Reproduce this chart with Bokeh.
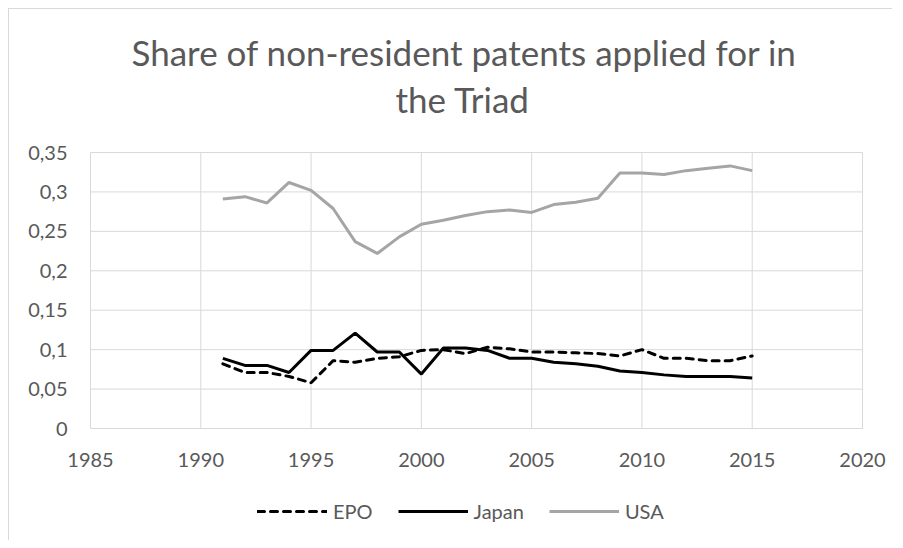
from bokeh.plotting import figure
from bokeh.models import Title, Legend, LegendItem, Range1d
from bokeh.embed import file_html
from bokeh.resources import INLINE

years = list(range(1991, 2016))
epo = [0.082, 0.071, 0.071, 0.066, 0.058, 0.086, 0.084, 0.089, 0.091, 0.099,
       0.100, 0.095, 0.103, 0.101, 0.097, 0.097, 0.096, 0.095, 0.092, 0.100,
       0.089, 0.089, 0.086, 0.086, 0.092]
japan = [0.089, 0.080, 0.080, 0.071, 0.099, 0.099, 0.121, 0.097, 0.097, 0.069,
         0.102, 0.102, 0.099, 0.089, 0.089, 0.084, 0.082, 0.079, 0.073, 0.071,
         0.068, 0.066, 0.066, 0.066, 0.064]
usa = [0.291, 0.294, 0.286, 0.312, 0.302, 0.279, 0.237, 0.222, 0.243, 0.259,
       0.264, 0.270, 0.275, 0.277, 0.274, 0.284, 0.287, 0.292, 0.324, 0.324,
       0.322, 0.327, 0.330, 0.333, 0.327]
x_ticks = [1985, 1990, 1995, 2000, 2005, 2010, 2015, 2020]
x_labels = ["1985", "1990", "1995", "2000", "2005", "2010", "2015", "2020"]
y_ticks = [0, 0.05, 0.1, 0.15, 0.2, 0.25, 0.3, 0.35]
y_labels = ["0", "0,05", "0,1", "0,15", "0,2", "0,25", "0,3", "0,35"]
title_lines = ["Share of non-resident patents applied for in", "the Triad"]

FONT = "Lato"
TXT = "#595959"
GRID = "#d9d9d9"

# plotting region: 772 x 276 px; the frame is padded so tick labels and legend fit inside
PLOT_W, PLOT_H = 772, 276
PAD_L, PAD_R, PAD_T, PAD_B = 81, 30, 14, 112
px_x = PLOT_W / (x_ticks[-1] - x_ticks[0])
px_y = PLOT_H / (y_ticks[-1] - y_ticks[0])

p = figure(frame_width=PLOT_W + PAD_L + PAD_R, frame_height=PLOT_H + PAD_T + PAD_B,
           output_backend="svg", toolbar_location=None,
           x_range=Range1d(x_ticks[0] - PAD_L / px_x, x_ticks[-1] + PAD_R / px_x),
           y_range=Range1d(y_ticks[0] - PAD_B / px_y, y_ticks[-1] + PAD_T / px_y),
           min_border_left=81 - PAD_L, min_border_right=30 - PAD_R,
           min_border_top=143 - PAD_T, min_border_bottom=0)
p.styles = {"margin-top": "8px", "margin-left": "8px",
            "border-top": "1px solid #d9d9d9", "border-left": "1px solid #d9d9d9"}
p.title.visible = False

t2 = Title(text=title_lines[1], align="left", text_font=FONT, text_font_size="35px",
           text_color=TXT, text_font_style="normal", offset=305 + PAD_L,
           standoff=66 - 2 * PAD_T)
t1 = Title(text=title_lines[0], align="left", text_font=FONT, text_font_size="35px",
           text_color=TXT, text_font_style="normal", offset=41 + PAD_L,
           standoff=2 * PAD_T - 60)
p.add_layout(t2, "above")
p.add_layout(t1, "above")

n_x, n_y = len(x_ticks), len(y_ticks)
# gridlines over the plotting region only
p.segment(x0=x_ticks, y0=[y_ticks[0]] * n_x, x1=x_ticks, y1=[y_ticks[-1]] * n_x,
          line_color=GRID, line_width=1)
p.segment(x0=[x_ticks[0]] * n_y, y0=y_ticks, x1=[x_ticks[-1]] * n_y, y1=y_ticks,
          line_color=GRID, line_width=1)

r_epo = p.line(years, epo, line_color="black", line_width=3, line_dash="7 6",
               line_cap="round")
r_jp = p.line(years, japan, line_color="black", line_width=3)
r_us = p.line(years, usa, line_color="#a5a5a5", line_width=3)

# tick labels
p.text(x=x_ticks, y=[y_ticks[0]] * n_x, text=x_labels,
       text_font={"value": FONT}, text_font_size={"value": "20px"}, text_color=TXT,
       text_align="center", text_baseline="middle", y_offset=31)
p.text(x=[x_ticks[0]] * n_y, y=y_ticks, text=y_labels,
       text_font={"value": FONT}, text_font_size={"value": "20px"}, text_color=TXT,
       text_align="right", text_baseline="middle", x_offset=-23)

p.xaxis.visible = False
p.yaxis.visible = False
p.xgrid.visible = False
p.ygrid.visible = False
p.outline_line_color = None

legend = Legend(items=[LegendItem(label="EPO", renderers=[r_epo]),
                       LegendItem(label="Japan", renderers=[r_jp]),
                       LegendItem(label="USA", renderers=[r_us])],
                orientation="horizontal", location=(167 + PAD_L, 17),
                border_line_color=None, background_fill_alpha=0,
                label_text_font=FONT, label_text_font_size="20px",
                label_text_color=TXT, glyph_width=70, glyph_height=20, spacing=25,
                label_standoff=6, margin=0, padding=0)
p.add_layout(legend, "center")

open("out.html", "w").write(file_html(p, INLINE))
